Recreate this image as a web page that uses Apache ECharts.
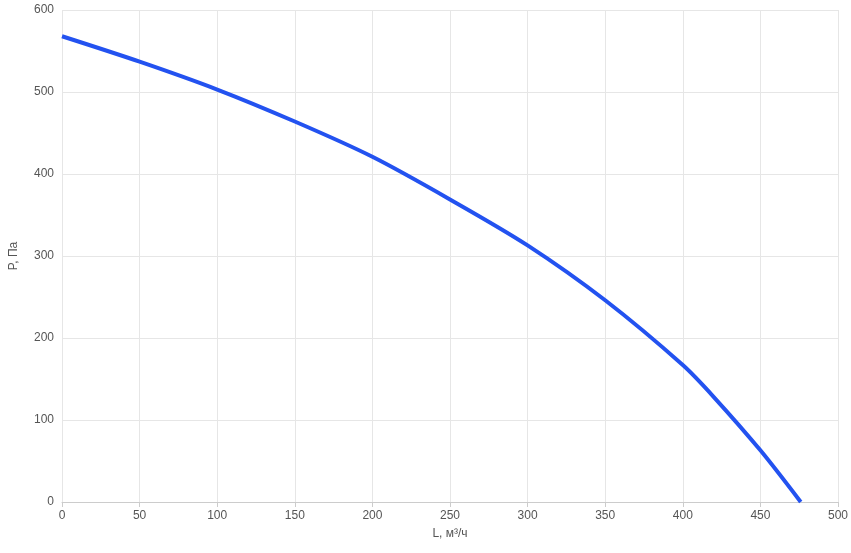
<!DOCTYPE html>
<html><head><meta charset="utf-8">
<script src="https://cdn.jsdelivr.net/npm/echarts@6/dist/echarts.min.js"></script>
<style>html,body{margin:0;padding:0;background:#fff}#c{width:851px;height:553px}</style>
</head><body><div id="c"></div>
<script>
const flow = [0, 50, 100, 150, 200, 250, 300, 350, 400, 420, 450, 476];
const pressure = [568, 537, 503, 464, 421, 369, 313, 246, 167, 128, 63, 0];
const xName = 'L, м³/ч';
const yName = 'P, Па';
const chart = echarts.init(document.getElementById('c'));
chart.setOption({
  animation: false,
  grid: {left: 56, right: 13, top: 10, bottom: 51},
  xAxis: {type: 'value', min: 0, max: 500, interval: 50, name: xName, nameLocation: 'middle', nameGap: 26,
    nameTextStyle: {color: '#555', fontSize: 12},
    axisLine: {lineStyle: {color: '#ccc'}}, axisTick: {show: true, lineStyle: {color: '#ccc'}},
    axisLabel: {color: '#555', fontSize: 12},
    splitLine: {show: true, lineStyle: {color: '#e6e6e6'}}},
  yAxis: {type: 'value', min: 0, max: 600, interval: 100, name: yName, nameLocation: 'middle', nameGap: 42,
    nameTextStyle: {color: '#555', fontSize: 12},
    axisLine: {show: false}, axisTick: {show: false},
    axisLabel: {color: '#555', fontSize: 12},
    splitLine: {show: true, lineStyle: {color: '#e6e6e6'}}},
  series: [{type: 'line', smooth: 0.3, showSymbol: false,
    lineStyle: {color: '#2352f0', width: 4},
    data: flow.map((x, i) => [x, pressure[i]])}]
});
</script></body></html>
